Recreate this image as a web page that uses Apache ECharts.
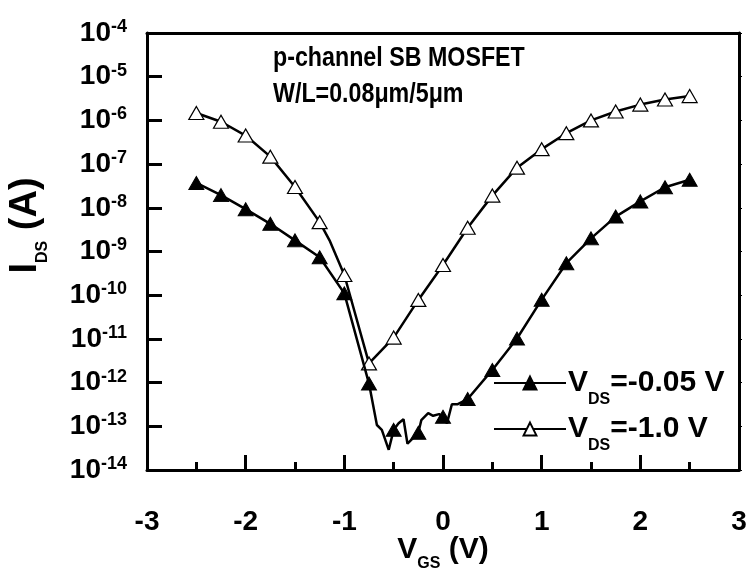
<!DOCTYPE html>
<html>
<head>
<meta charset="utf-8">
<script src="https://cdn.jsdelivr.net/npm/echarts@6/dist/echarts.min.js"></script>
<style>
  html, body { margin: 0; padding: 0; background: #fff; }
  #main { width: 751px; height: 571px; }
</style>
</head>
<body>
<div id="main"></div>
<script>
// V_DS = -0.05 V (filled triangles), line points incl. noisy floor
var vgsLow = [-2.5, -2.25, -2.0, -1.75, -1.5, -1.25, -1.0, -0.75, -0.67, -0.62, -0.55, -0.5, -0.45, -0.4, -0.36,
  -0.25, -0.22, -0.15, -0.1, -0.04, 0, 0.04, 0.09, 0.15, 0.25, 0.5, 0.75, 1.0, 1.25, 1.5, 1.75, 2.0, 2.25, 2.5];
var idsLow = [3.7e-8, 1.95e-8, 9.3e-9, 4.3e-9, 1.8e-9, 7.4e-10, 1.1e-10, 9.5e-13, 1.07e-13, 8.3e-14, 2.9e-14, 8.3e-14, 1.17e-13, 1.45e-13, 4.0e-14,
  7.1e-14, 1.38e-13, 2.0e-13, 1.74e-13, 1.9e-13, 1.66e-13, 1.17e-13, 3.2e-13, 3.2e-13, 4.2e-13, 1.95e-12, 1.02e-11, 7.9e-11, 5.4e-10, 2.0e-9, 6.3e-9, 1.4e-8, 2.95e-8, 4.4e-8];

// V_DS = -1.0 V (open triangles)
var vgsHigh = [-2.5, -2.25, -2.0, -1.75, -1.5, -1.25, -1.15, -1.0, -0.75, -0.5, -0.25, 0, 0.25, 0.5, 0.75,
  1.0, 1.25, 1.5, 1.75, 2.0, 2.25, 2.5];
var idsHigh = [1.48e-6, 9.3e-7, 4.5e-7, 1.48e-7, 3.0e-8, 4.7e-9, 1.8e-9, 2.9e-10, 2.75e-12, 1.07e-11, 7.8e-11, 4.9e-10, 3.5e-9, 1.9e-8, 8.3e-8,
  2.2e-7, 5.1e-7, 1.0e-6, 1.6e-6, 2.3e-6, 3.0e-6, 3.6e-6];

var seriesNames = ["V_DS=-0.05 V", "V_DS=-1.0 V"];
var legendText = {
  "V_DS=-0.05 V": "{v|V}{s|DS}{v|=-0.05 V}",
  "V_DS=-1.0 V": "{v|V}{s|DS}{v|=-1.0 V}"
};
var titleLines = ["p-channel SB MOSFET", "W/L=0.08μm/5μm"];

var FONT = "'Liberation Sans', Arial, Helvetica, sans-serif";

// markers only every 0.25 V, the line uses all points
function buildData(xs, ys) {
  var out = [];
  for (var i = 0; i < xs.length; i++) {
    var mark = Math.abs(xs[i] * 4 - Math.round(xs[i] * 4)) < 1e-6;
    out.push({ value: [xs[i], ys[i]], symbol: mark ? "triangle" : "none" });
  }
  return out;
}

// text with a subscript: small part sits at the bottom of a tall line box
function subRich(size, lh, subLh) {
  return {
    v: { fontSize: size, fontWeight: "bold", fontFamily: FONT, color: "#000", lineHeight: lh },
    s: { fontSize: 16, fontWeight: "bold", fontFamily: FONT, color: "#000", lineHeight: subLh, verticalAlign: "bottom" }
  };
}

var myChart = echarts.init(document.getElementById("main"));
var option = {
  backgroundColor: "#fff",
  animation: false,
  // the original uses a condensed face, so squeeze the title a bit
  graphic: [{
    type: "text",
    left: 273,
    top: 40,
    scaleX: 0.83,
    style: { text: titleLines.join("\n"), fill: "#000", font: "bold 28px " + FONT, lineHeight: 36 }
  }],
  grid: { left: 147, right: 12, top: 33, bottom: 101, outerBoundsMode: "none" },
  legend: {
    orient: "vertical",
    left: 493,
    top: 368,
    padding: 0,
    itemWidth: 72,
    itemHeight: 16,
    itemGap: 6,
    data: seriesNames,
    formatter: function (name) { return legendText[name]; },
    textStyle: { rich: subRich(30, 50, 14), padding: [0, 0, 0, -3] }
  },
  xAxis: [{
    type: "value",
    min: -3,
    max: 3,
    interval: 1,
    name: "{v|V}{s|GS}{v| (V)}",
    nameLocation: "middle",
    nameGap: 58,
    nameMoveOverlap: false,
    nameTextStyle: { rich: subRich(30, 44, 20) },
    axisLine: { onZero: false, lineStyle: { color: "#000", width: 3 } },
    axisTick: { inside: true, length: 15, lineStyle: { width: 3 } },
    minorTick: { show: true, splitNumber: 2, length: 8, lineStyle: { color: "#000", width: 3 } },
    splitLine: { show: false },
    axisLabel: { margin: 38, fontSize: 28, fontWeight: "bold", fontFamily: FONT, color: "#000" }
  }, {
    type: "value",
    position: "top",
    min: -3,
    max: 3,
    axisLine: { onZero: false, lineStyle: { color: "#000", width: 3 } },
    axisTick: { show: false },
    axisLabel: { show: false },
    splitLine: { show: false }
  }],
  yAxis: [{
    type: "log",
    logBase: 10,
    min: 1e-14,
    max: 1e-4,
    interval: 1,
    name: "{v|I}{s|DS}{v| (A)}",
    nameLocation: "middle",
    nameGap: 96,
    nameRotate: 90,
    nameMoveOverlap: false,
    nameTextStyle: { rich: subRich(38, 50, 14), padding: [0, 0, 0, 52] },
    axisLine: { onZero: false, lineStyle: { color: "#000", width: 3 } },
    axisTick: { inside: true, length: 15, lineStyle: { width: 3 } },
    splitLine: { show: false },
    axisLabel: {
      margin: 20,
      formatter: function (val) {
        return "{b|10}{e|" + Math.round(Math.log10(val)) + "}";
      },
      rich: {
        b: { fontSize: 28, fontWeight: "bold", fontFamily: FONT, color: "#000", lineHeight: 30 },
        e: { fontSize: 18, fontWeight: "bold", fontFamily: FONT, color: "#000", lineHeight: 12, verticalAlign: "top" }
      }
    }
  }, {
    type: "log",
    position: "right",
    min: 1e-14,
    max: 1e-4,
    interval: 1,
    axisLine: { onZero: false, lineStyle: { color: "#000", width: 3 } },
    axisTick: { length: 3, lineStyle: { width: 1 } },
    axisLabel: { show: false },
    splitLine: { show: false }
  }],
  series: [{
    name: seriesNames[0],
    type: "line",
    symbol: "triangle",
    symbolSize: [15, 13],
    lineStyle: { color: "#000", width: 2.5 },
    itemStyle: { color: "#000", borderColor: "#000", borderWidth: 1 },
    data: buildData(vgsLow, idsLow),
    z: 3
  }, {
    name: seriesNames[1],
    type: "line",
    symbol: "triangle",
    symbolSize: [15, 13],
    lineStyle: { color: "#000", width: 2.5 },
    itemStyle: { color: "#fff", borderColor: "#000", borderWidth: 1.2 },
    data: buildData(vgsHigh, idsHigh),
    z: 2
  }]
};
myChart.setOption(option);
window.addEventListener("resize", function () {
  myChart.resize();
});
</script>
</body>
</html>
